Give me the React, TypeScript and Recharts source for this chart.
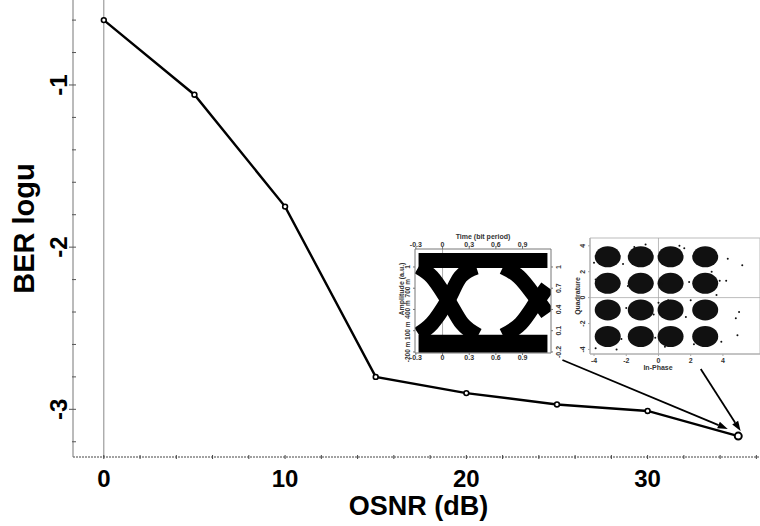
import React from "react";
import {
  LineChart,
  Line,
  XAxis,
  YAxis,
  ReferenceLine,
  ReferenceArea,
  ScatterChart,
  Scatter,
  Label,
} from "recharts";

// ---------- main chart data ----------
const osnr = [0, 5, 10, 15, 20, 25, 30, 35];
const berLog = [-0.6, -1.06, -1.75, -2.8, -2.9, -2.97, -3.01, -3.165];
const xTicks = [0, 2, 4, 6, 8, 10, 12, 14, 16, 18, 20, 22, 24, 26, 28, 30, 32, 34, 36];
const yTicks = [-3.2, -3.0, -2.8, -2.6, -2.4, -2.2, -2.0, -1.8, -1.6, -1.4, -1.2, -1.0, -0.8, -0.6];
const xMajor = [0, 10, 20, 30];

// annotation arrows (data coordinates)
const arrowFromX = [25.3, 32.93];
const arrowFromY = [-2.696, -2.752];
const arrowToX = [34.42, 35.13];
const arrowToY = [-3.121, -3.134];

// ---------- eye diagram inset ----------
const eyeTimeTicks = [-0.3, 0, 0.3, 0.6, 0.9];
const eyeAmpTicks = [-0.2, 0.1, 0.4, 0.7, 1.0];
const eyeLeftLabels = ["-200 m", "100 m", "400 m", "700 m", "1"];
const eyeRightLabels = ["-0.2", "0.1", "0.4", "0.7", "1"];
const eyeTopRail = [
  { t: -0.27, a: 1.09 },
  { t: 1.18, a: 1.09 },
];
const eyeBottomRail = [
  { t: -0.27, a: -0.085 },
  { t: 1.18, a: -0.085 },
];
const eyeFallLeft = [
  { t: -0.27, a: 1.0 },
  { t: -0.12, a: 0.86 },
  { t: 0.06, a: 0.53 },
  { t: 0.22, a: 0.2 },
  { t: 0.4, a: 0.03 },
];
const eyeRiseLeft = [
  { t: -0.27, a: 0.05 },
  { t: -0.12, a: 0.2 },
  { t: 0.06, a: 0.53 },
  { t: 0.2, a: 0.86 },
  { t: 0.38, a: 1.0 },
];
const eyeFallRight = [
  { t: 0.68, a: 1.0 },
  { t: 0.86, a: 0.86 },
  { t: 1.07, a: 0.53 },
  { t: 1.18, a: 0.34 },
];
const eyeRiseRight = [
  { t: 0.68, a: 0.03 },
  { t: 0.88, a: 0.2 },
  { t: 1.07, a: 0.53 },
  { t: 1.18, a: 0.72 },
];

// ---------- constellation inset ----------
const clusterX = [-3.15, -1.1, 0.75, 2.9];
const clusterY = [3.15, 1.1, -0.95, -3.0];
const constTicks = [-4, -2, 0, 2, 4];
const speckX = [4.3, 5.2, 4.2, 5.0, 4.8, 4.9, -3.9, -1.5, 0.2, 1.9, -2.0, 0.4, 1.6, -3.7, 3.9, -0.3, 2.2, -2.2, 0.6, 3.6, -0.8, 1.3, -2.6, 3.3, -4.0, 0.0, 2.0, -1.9, -3.9, -2.3, 0.1, 3.8, -0.2, 1.7];
const speckY = [3.0, 2.5, 1.3, -1.1, -1.6, -2.9, -3.9, 3.9, 1.1, 1.2, -0.8, -3.8, 3.8, 0.6, -3.4, -1.3, -3.6, 2.6, -0.2, 0.2, 4.1, 4.0, -4.0, 2.0, 2.7, -0.4, -0.2, 0.9, 1.4, -3.2, 3.3, 1.3, -3.1, -1.5];

const FONT = "'Liberation Sans', Arial, sans-serif";

const mainData = osnr.map((x, i) => ({ osnr: x, ber: berLog[i] }));
const clusters = clusterX.flatMap((x) => clusterY.map((y) => ({ x, y })));
const specks = speckX.map((x, i) => ({ x, y: speckY[i] }));

const XTick = (props: any) => {
  const { x, y, payload } = props;
  const v = payload.value;
  const major = xMajor.includes(v);
  return (
    <g>
      <line x1={x} x2={x} y1={y - 2} y2={y + 2} stroke="#444" strokeWidth={1} />
      {major && (
        <text x={x} y={y + 30} textAnchor="middle" fontSize={24} fontWeight="bold" fontFamily={FONT} fill="#000">
          {v}
        </text>
      )}
    </g>
  );
};

const YTick = (props: any) => {
  const { x, y, payload } = props;
  const v = payload.value;
  const major = Math.abs(v - Math.round(v)) < 1e-6;
  return (
    <g>
      <line x1={x - (major ? 4 : 1)} x2={x + 3} y1={y} y2={y} stroke="#555" strokeWidth={1} />
      {major && (
        <text
          x={x - 6}
          y={y}
          transform={`rotate(-90, ${x - 6}, ${y})`}
          textAnchor="middle"
          fontSize={24}
          fontWeight="bold"
          fontFamily={FONT}
          fill="#000"
        >
          {Math.round(v)}
        </text>
      )}
    </g>
  );
};

const renderDot = (p: any) => {
  const last = p.index === osnr.length - 1;
  return (
    <circle
      key={`d${p.index}`}
      cx={p.cx}
      cy={p.cy}
      r={last ? 3.5 : 2.4}
      fill="#fff"
      stroke="#000"
      strokeWidth={last ? 2 : 1.6}
    />
  );
};

const ArrowShape = (p: any) => {
  const { x1, y1, x2, y2 } = p;
  const ang = Math.atan2(y2 - y1, x2 - x1);
  const L = 10;
  const W = 3.5;
  const c = Math.cos(ang);
  const s = Math.sin(ang);
  const bx = x2 - L * c;
  const by = y2 - L * s;
  return (
    <g>
      <line x1={x1} y1={y1} x2={bx} y2={by} stroke="#000" strokeWidth={1.8} />
      <polygon
        points={`${x2},${y2} ${bx - W * s},${by + W * c} ${bx + W * s},${by - W * c}`}
        fill="#000"
      />
    </g>
  );
};

const smallTick = (anchor: string, rotate: boolean, labels?: string[], ticks?: number[], dx = 0, dy = 0, size = 7) =>
  (props: any) => {
    const { x, y, payload, index } = props;
    const txt = labels && ticks ? labels[ticks.indexOf(payload.value)] ?? String(payload.value) : String(payload.value);
    const tx = x + dx;
    const ty = y + dy;
    return (
      <text
        key={index}
        x={tx}
        y={ty}
        transform={rotate ? `rotate(-90, ${tx}, ${ty})` : undefined}
        textAnchor={anchor as any}
        fontSize={size}
        fontWeight="bold"
        fontFamily={FONT}
        fill="#333"
      >
        {txt}
      </text>
    );
  };

const EyeInset = () => (
  <LineChart width={180} height={130} margin={{ top: 0, right: 0, bottom: 0, left: 0 }}>
    <XAxis
      xAxisId="b"
      type="number"
      dataKey="t"
      domain={[-0.31, 1.22]}
      allowDataOverflow
      ticks={eyeTimeTicks}
      orientation="bottom"
      height={9}
      tickSize={2}
      tickMargin={0}
      stroke="#777"
      tick={smallTick("middle", false, undefined, undefined, 0, 5)}
      interval={0}
    />
    <XAxis
      xAxisId="t"
      type="number"
      dataKey="t"
      domain={[-0.31, 1.22]}
      allowDataOverflow
      ticks={eyeTimeTicks}
      orientation="top"
      height={17}
      tickSize={2}
      tickMargin={0}
      stroke="#777"
      tick={smallTick("middle", false, undefined, undefined, 0, 0)}
      interval={0}
    >
      <Label
        content={(p: any) => (
          <text
            x={p.viewBox.x + p.viewBox.width / 2}
            y={p.viewBox.y + 7}
            textAnchor="middle"
            fontSize={7}
            fontWeight="bold"
            fontFamily={FONT}
            fill="#333"
          >
            Time (bit period)
          </text>
        )}
      />
    </XAxis>
    <YAxis
      yAxisId="l"
      type="number"
      domain={[-0.215, 1.254]}
      allowDataOverflow
      ticks={eyeAmpTicks}
      width={30}
      tickSize={2}
      tickMargin={0}
      stroke="#777"
      tick={smallTick("middle", true, eyeLeftLabels, eyeAmpTicks, -3, 0, 6.5)}
      interval={0}
    >
      <Label
        content={(p: any) => (
          <text
            x={p.viewBox.x + 19}
            y={p.viewBox.y + 40}
            transform={`rotate(-90, ${p.viewBox.x + 19}, ${p.viewBox.y + 40})`}
            textAnchor="middle"
            fontSize={7}
            fontWeight="bold"
            fontFamily={FONT}
            fill="#333"
          >
            Amplitude (a.u.)
          </text>
        )}
      />
    </YAxis>
    <YAxis
      yAxisId="r"
      orientation="right"
      type="number"
      domain={[-0.215, 1.254]}
      allowDataOverflow
      ticks={eyeAmpTicks}
      width={14}
      tickSize={2}
      tickMargin={0}
      stroke="#777"
      tick={smallTick("middle", true, eyeRightLabels, eyeAmpTicks, 8, 0)}
      interval={0}
    />
    <ReferenceLine xAxisId="b" yAxisId="r" x={0} stroke="#999" strokeWidth={0.8} />
    <Line
      xAxisId="b"
      yAxisId="r"
      data={eyeTopRail}
      dataKey="a"
      type="linear"
      stroke="#000"
      strokeWidth={15}
      strokeLinecap="butt"
      dot={false}
      isAnimationActive={false}
    />
    <Line
      xAxisId="b"
      yAxisId="r"
      data={eyeBottomRail}
      dataKey="a"
      type="linear"
      stroke="#000"
      strokeWidth={18}
      strokeLinecap="butt"
      dot={false}
      isAnimationActive={false}
    />
    {[eyeFallLeft, eyeRiseLeft, eyeFallRight, eyeRiseRight].map((d, i) => (
      <Line
        key={`arm${i}`}
        xAxisId="b"
        yAxisId="r"
        data={d}
        dataKey="a"
        type="monotone"
        stroke="#000"
        strokeWidth={15}
        strokeLinecap="butt"
        dot={false}
        isAnimationActive={false}
      />
    ))}
  </LineChart>
);

const ConstInset = () => (
  <ScatterChart width={195} height={140} margin={{ top: 6, right: 0, bottom: 0, left: 0 }}>
    <XAxis
      type="number"
      dataKey="x"
      domain={[-4.25, 6.3]}
      allowDataOverflow
      ticks={constTicks}
      height={18}
      tickSize={2}
      tickMargin={0}
      stroke="#aaa"
      tick={smallTick("middle", false, undefined, undefined, 0, 7)}
      interval={0}
    >
      <Label
        content={(p: any) => (
          <text
            x={658 - 565}
            y={p.viewBox.y + 16}
            textAnchor="middle"
            fontSize={7}
            fontWeight="bold"
            fontFamily={FONT}
            fill="#333"
          >
            In-Phase
          </text>
        )}
      />
    </XAxis>
    <YAxis
      type="number"
      dataKey="y"
      domain={[-4.35, 4.6]}
      allowDataOverflow
      ticks={constTicks}
      width={25}
      tickSize={2}
      tickMargin={0}
      stroke="#aaa"
      tick={smallTick("middle", true, undefined, undefined, -3, 0)}
      interval={0}
    >
      <Label
        content={(p: any) => (
          <text
            x={p.viewBox.x + 15}
            y={p.viewBox.y + p.viewBox.height / 2}
            transform={`rotate(-90, ${p.viewBox.x + 15}, ${p.viewBox.y + p.viewBox.height / 2})`}
            textAnchor="middle"
            fontSize={7}
            fontWeight="bold"
            fontFamily={FONT}
            fill="#333"
          >
            Quadrature
          </text>
        )}
      />
    </YAxis>
    <ReferenceArea x1={-4.25} x2={6.3} y1={-4.35} y2={4.6} fill="none" stroke="#bbb" strokeWidth={1} />
    <ReferenceLine x={0} stroke="#aaa" strokeWidth={0.8} />
    <ReferenceLine y={0} stroke="#aaa" strokeWidth={0.8} />
    <Scatter
      data={clusters}
      isAnimationActive={false}
      shape={(p: any) => <ellipse cx={p.cx} cy={p.cy} rx={13} ry={10.5} fill="#111" />}
    />
    <Scatter
      data={specks}
      isAnimationActive={false}
      shape={(p: any) => <circle cx={p.cx} cy={p.cy} r={1} fill="#111" />}
    />
  </ScatterChart>
);

export default function App() {
  return (
    <div style={{ position: "absolute", left: 0, top: 0, width: 760, height: 526, background: "#fff", overflow: "hidden" }}>
      <LineChart width={760} height={526} data={mainData} margin={{ top: 0, right: 0, bottom: 0, left: 0 }}>
        <XAxis
          dataKey="osnr"
          type="number"
          domain={[-1.7, 36.2]}
          allowDataOverflow
          ticks={xTicks}
          interval={0}
          height={69}
          tickLine={false}
          tickSize={0}
          tickMargin={0}
          axisLine={{ stroke: "#444", strokeWidth: 1, strokeDasharray: "2 1" }}
          tick={XTick}
        >
          <Label
            content={(p: any) => (
              <text
                x={p.viewBox.x + p.viewBox.width / 2 + 2}
                y={p.viewBox.y + 58}
                textAnchor="middle"
                fontSize={27}
                fontWeight="bold"
                fontFamily={FONT}
                fill="#000"
              >
                OSNR (dB)
              </text>
            )}
          />
        </XAxis>
        <YAxis
          type="number"
          domain={[-3.294, -0.476]}
          allowDataOverflow
          ticks={yTicks}
          interval={0}
          width={73}
          tickLine={false}
          tickSize={0}
          tickMargin={0}
          axisLine={{ stroke: "#777", strokeWidth: 1 }}
          tick={YTick}
        >
          <Label
            content={(p: any) => (
              <text
                x={34}
                y={p.viewBox.y + p.viewBox.height / 2}
                transform={`rotate(-90, 34, ${p.viewBox.y + p.viewBox.height / 2})`}
                textAnchor="middle"
                fontSize={29}
                fontWeight="bold"
                fontFamily={FONT}
                fill="#000"
              >
                BER logu
              </text>
            )}
          />
        </YAxis>
        <ReferenceLine x={0} stroke="#888" strokeWidth={1} />
        {arrowFromX.map((fx, i) => (
          <ReferenceLine
            key={`arrow${i}`}
            segment={[
              { x: fx, y: arrowFromY[i] },
              { x: arrowToX[i], y: arrowToY[i] },
            ]}
            shape={ArrowShape}
          />
        ))}
        <Line
          dataKey="ber"
          type="linear"
          stroke="#000"
          strokeWidth={2.4}
          dot={renderDot}
          isAnimationActive={false}
        />
      </LineChart>
      <div style={{ position: "absolute", left: 385, top: 232 }}>
        <EyeInset />
      </div>
      <div style={{ position: "absolute", left: 565, top: 232 }}>
        <ConstInset />
      </div>
    </div>
  );
}
